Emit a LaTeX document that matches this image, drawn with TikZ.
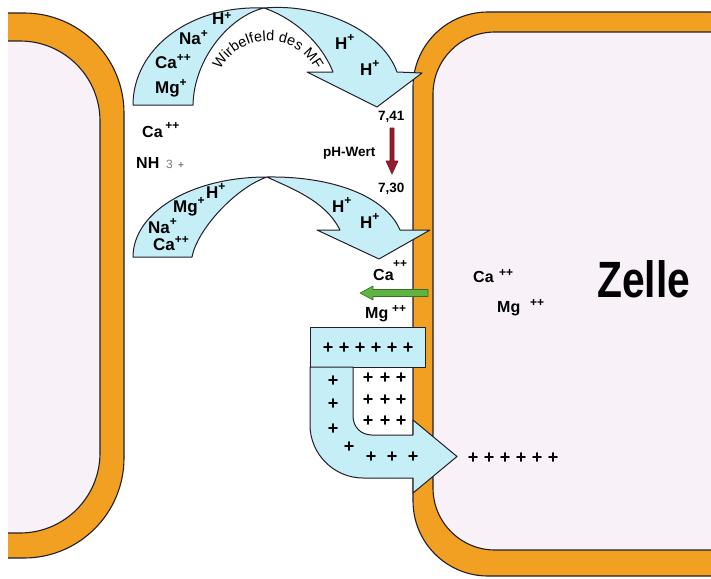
\documentclass[tikz,border=0pt]{standalone}
\usepackage{fontspec}
\setmainfont{Liberation Sans}
\usetikzlibrary{decorations.text,calc}

\definecolor{membrane}{RGB}{241,160,34}
\definecolor{plasma}{RGB}{248,241,247}
\definecolor{flowfill}{RGB}{197,238,246}
\definecolor{edgeline}{RGB}{35,30,40}
\definecolor{phred}{RGB}{150,28,45}
\definecolor{pumpgreen}{RGB}{95,180,65}
\definecolor{fadedtext}{RGB}{120,120,125}

% raised charge sign after an ion symbol
\newcommand{\ionsup}[2][0.45em]{\raisebox{#1}{\fontsize{12}{12}\selectfont #2}}

\begin{document}
\begin{tikzpicture}[x=1pt,y=-1pt,
  cellwall/.style={fill=membrane,draw=edgeline,line width=1.1pt},
  cellbody/.style={fill=plasma,draw=edgeline,line width=1.1pt},
  flowshape/.style={fill=flowfill,draw=edgeline,line width=1pt,line join=round},
  ionlabel/.style={font=\fontsize{17}{17}\selectfont\bfseries,anchor=base west,inner sep=0pt},
  ionsmall/.style={font=\fontsize{16}{16}\selectfont\bfseries,anchor=base west,inner sep=0pt},
  chargelabel/.style={font=\fontsize{12}{12}\selectfont\bfseries,anchor=base west,inner sep=0pt},
  numlabel/.style={font=\fontsize{13.5}{13.5}\selectfont\bfseries,anchor=base west,inner sep=0pt},
  pluslabel/.style={font=\fontsize{18}{18}\selectfont\bfseries,inner sep=0pt},
]
\useasboundingbox (0,0) rectangle (711,578);
\fill[white] (0,0) rectangle (711,578);

% the two cells with their membranes
\begin{scope}
  \clip (8,0) rectangle (711,578);
  \draw[cellwall,rounded corners=100] (-300,13) rectangle (124,558);
  \draw[cellbody,rounded corners=80] (-300,41) rectangle (100,533);
  \draw[cellwall,rounded corners=75] (413,12) rectangle (1000,576);
  \draw[cellbody,rounded corners=62] (433,32) rectangle (1000,550);
\end{scope}

% upper curved flow arrow
\coordinate (t1) at (264,8);
\draw[flowshape] (133,105) .. controls (133,50) and (188,5) .. (t1)
  .. controls (230,16) and (194,58) .. (193,105) -- cycle;
\draw[flowshape] (t1) .. controls (320,3) and (382,30) .. (397,72)
  -- (422,73) -- (377,107) -- (307,72) -- (333,72)
  .. controls (318,35) and (285,15) .. (t1) -- cycle;
\coordinate (vortexcentre) at (268,95);
\path[decorate,decoration={text along path,
  text={|\fontsize{14.5}{14.5}\selectfont|Wirbelfeld des MF},text align=center}]
  ($(vortexcentre)+(200:54)$) arc[start angle=200,end angle=340,radius=54];

% lower curved flow arrow
\coordinate (t2) at (267,177);
\draw[flowshape] (133,257) .. controls (133,213) and (190,177) .. (t2)
  .. controls (235,188) and (197,230) .. (192,257) -- cycle;
\draw[flowshape] (t2) .. controls (330,176) and (385,195) .. (400,230)
  -- (430,230) -- (379,259) -- (317,230) -- (340,230)
  .. controls (325,200) and (290,188) .. (t2) -- cycle;

% ion labels in the upper arrow
\node[ionlabel] (h1) at (212,25) {H\ionsup[0.3em]{+}};
\node[ionlabel] (na1) at (179,45) {Na\ionsup{+}};
\node[ionlabel] (ca1) at (155,68) {Ca\ionsup[0.4em]{++}};
\node[ionlabel] (mg1) at (155,93) {Mg\ionsup[0.4em]{+}};
\node[ionlabel] (h2) at (335,49) {H\ionsup{+}};
\node[ionlabel] (h3) at (360,75) {H\ionsup{+}};

% ions between the cells
\node[ionsmall] (ca0) at (142,137) {Ca\,\ionsup[0.5em]{++}};
\node[ionsmall] (nh) at (136,168) {NH};
\node[anchor=base west,inner sep=0pt,text=fadedtext,font=\fontsize{12}{12}\selectfont] (nh3) at (166,168) {3};
\node[anchor=base west,inner sep=0pt,text=fadedtext,font=\fontsize{10}{10}\selectfont\bfseries] (nhp) at (178,168) {+};

% pH drop
\node[numlabel] (v741) at (378,120) {7,41};
\node[numlabel] (v730) at (378,192) {7,30};
\node[anchor=base west,inner sep=0pt,font=\fontsize{13.5}{13.5}\selectfont\bfseries] (ph) at (323,156) {pH-Wert};
\draw[fill=phred,draw=phred!70!black,line width=0.6pt,line join=round]
  (390,128) -- (394,128) -- (394,161) -- (398,161) -- (392,174) -- (386,161) -- (390,161) -- cycle;

% ion labels in the lower arrow
\node[ionlabel] (mg2) at (173,212) {Mg\ionsup{+}};
\node[ionlabel] (h4) at (206,198) {H\ionsup{+}};
\node[ionlabel] (na2) at (148,233) {Na\ionsup{+}};
\node[ionlabel] (ca2) at (153,250) {Ca\ionsup[0.4em]{++}};
\node[ionlabel] (h5) at (332,212) {H\ionsup{+}};
\node[ionlabel] (h6) at (360,228) {H\ionsup{+}};

% calcium and magnesium at the membrane, outward green arrow
\node[ionsmall] (ca3) at (373,280) {Ca};
\node[chargelabel] (ca3c) at (393,267) {++};
\node[ionsmall] (mg3) at (365,318) {Mg};
\node[chargelabel] (mg3c) at (392,312) {++};
\draw[fill=pumpgreen,draw=pumpgreen!60!black,line width=0.6pt,line join=round]
  (428,289.5) -- (373,289.5) -- (373,286) -- (360,293) -- (373,300) -- (373,296.5) -- (428,296.5) -- cycle;

% ions inside the cell
\node[ionsmall] (ca4) at (473,282) {Ca};
\node[chargelabel] (ca4c) at (499,276) {++};
\node[ionsmall] (mg4) at (497,312) {Mg};
\node[chargelabel] (mg4c) at (530,306) {++};
\node[anchor=base west,inner sep=0pt,font=\fontsize{51}{51}\selectfont\bfseries] (zelle) at (597,297) {\scalebox{0.8}[1]{Zelle}};

% charge block and bent arrow into the cell
\draw[flowshape] (310,327) rectangle (425,367);
\draw[flowshape] (310,367) -- (310,425) .. controls (310,454) and (334,478) .. (363,478)
  -- (413,478) -- (413,493) -- (457,456.5) -- (413,420) -- (413,435) -- (372,435)
  .. controls (361,435) and (353,427) .. (353,416) -- (353,367) -- cycle;

\foreach \i/\x in {1/328,2/344,3/360,4/376,5/392,6/408}
  \node[pluslabel] (top\i) at (\x,348) {+};
\foreach \i/\x/\y in {1/368/378,2/385/378,3/401/378,4/368/400,5/385/400,6/401/400,7/368/421,8/385/421,9/401/421}
  \node[pluslabel] (mid\i) at (\x,\y) {+};
\foreach \i/\x/\y in {1/333/381,2/333/404,3/333/429,4/349/447,5/371/457,6/392/457,7/413/457}
  \node[pluslabel] (bend\i) at (\x,\y) {+};
\foreach \i/\x in {1/473,2/489,3/505,4/521,5/537,6/553}
  \node[pluslabel] (out\i) at (\x,458) {+};
\end{tikzpicture}
\end{document}
